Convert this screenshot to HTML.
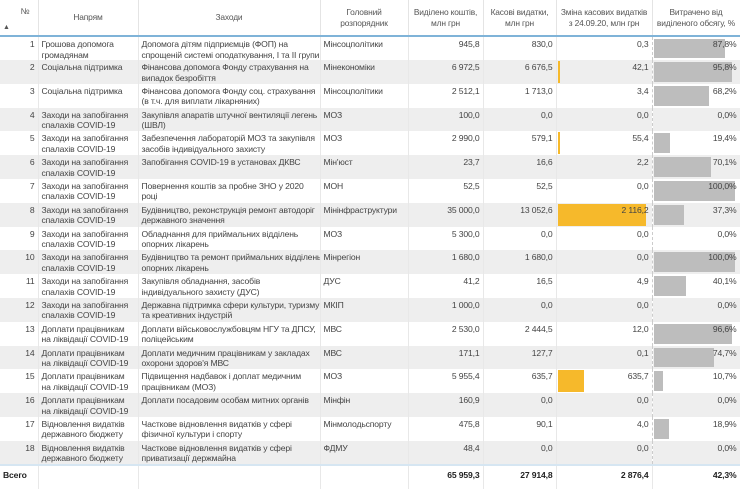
<!DOCTYPE html>
<html><head><meta charset="utf-8">
<style>
body{margin:0;width:740px;height:497px;background:#fff;font-family:"Liberation Sans","DejaVu Sans",sans-serif;font-size:8.6px;letter-spacing:-0.15px;color:#444;overflow:hidden;position:relative}
table{border-collapse:collapse;table-layout:fixed;position:absolute;left:0;top:0;width:740px}
td,th{padding:0 3px;vertical-align:top;line-height:10.5px;overflow:hidden;white-space:nowrap}
th{font-weight:normal;color:#555;font-size:8.4px;text-align:center;height:35px;vertical-align:middle;border-right:1px solid #e4e4e4;border-bottom:2px solid #7fb3d8;white-space:normal}
tbody tr{height:23.8px}
tbody td{padding-top:2px;border-right:1px solid #e8e8e8}
tbody tr:nth-child(even){background:#eeeeee}
.n{text-align:right}
.c{position:relative}
.y{position:absolute;left:1px;top:1px;bottom:1px;background:#f6b92b}
.g{position:absolute;left:1px;top:2px;bottom:2px;background:#bdbdbd}
.c span{position:relative}
td.c4{border-right:1px dashed #ccc}
tr.tot td{font-weight:bold;color:#222;height:14px;padding-top:4px;border-top:2px solid #d6e6f2;border-right:1px solid #e8e8e8;background:#fff}
</style></head><body>
<table>
<colgroup><col style="width:38px"><col style="width:100px"><col style="width:182px"><col style="width:88px"><col style="width:75px"><col style="width:73px"><col style="width:96px"><col style="width:88px"></colgroup>
<thead><tr><th style="position:relative"><span style="position:absolute;top:6px;right:8px">№</span><span style="position:absolute;left:3px;bottom:2px;font-size:7px">▲</span></th><th>Напрям</th><th>Заходи</th><th>Головний<br>розпорядник</th><th>Виділено коштів,<br>млн грн</th><th>Касові видатки,<br>млн грн</th><th>Зміна касових видатків<br>з 24.09.20, млн грн</th><th>Витрачено від<br>виділеного обсягу, %</th></tr></thead>
<tbody>
<tr><td class="n">1</td><td>Грошова допомога<br>громадянам</td><td>Допомога дітям підприємців (ФОП) на<br>спрощеній системі оподаткування, I та II групи</td><td>Мінсоцполітики</td><td class="n">945,8</td><td class="n">830,0</td><td class="n c c4"><span>0,3</span></td><td class="n c"><div class="g" style="width:71px"></div><span>87,8%</span></td></tr>
<tr><td class="n">2</td><td>Соціальна підтримка</td><td>Фінансова допомога Фонду страхування на<br>випадок безробіття</td><td>Мінекономіки</td><td class="n">6 972,5</td><td class="n">6 676,5</td><td class="n c c4"><div class="y" style="width:2px"></div><span>42,1</span></td><td class="n c"><div class="g" style="width:78px"></div><span>95,8%</span></td></tr>
<tr><td class="n">3</td><td>Соціальна підтримка</td><td>Фінансова допомога Фонду соц. страхування<br>(в т.ч. для виплати лікарняних)</td><td>Мінсоцполітики</td><td class="n">2 512,1</td><td class="n">1 713,0</td><td class="n c c4"><span>3,4</span></td><td class="n c"><div class="g" style="width:55px"></div><span>68,2%</span></td></tr>
<tr><td class="n">4</td><td>Заходи на запобігання<br>спалахів COVID-19</td><td>Закупівля апаратів штучної вентиляції легень<br>(ШВЛ)</td><td>МОЗ</td><td class="n">100,0</td><td class="n">0,0</td><td class="n c c4"><span>0,0</span></td><td class="n c"><span>0,0%</span></td></tr>
<tr><td class="n">5</td><td>Заходи на запобігання<br>спалахів COVID-19</td><td>Забезпечення лабораторій МОЗ та закупівля<br>засобів індивідуального захисту</td><td>МОЗ</td><td class="n">2 990,0</td><td class="n">579,1</td><td class="n c c4"><div class="y" style="width:2px"></div><span>55,4</span></td><td class="n c"><div class="g" style="width:16px"></div><span>19,4%</span></td></tr>
<tr><td class="n">6</td><td>Заходи на запобігання<br>спалахів COVID-19</td><td>Запобігання COVID-19 в установах ДКВС</td><td>Мін'юст</td><td class="n">23,7</td><td class="n">16,6</td><td class="n c c4"><span>2,2</span></td><td class="n c"><div class="g" style="width:57px"></div><span>70,1%</span></td></tr>
<tr><td class="n">7</td><td>Заходи на запобігання<br>спалахів COVID-19</td><td>Повернення коштів за пробне ЗНО у 2020<br>році</td><td>МОН</td><td class="n">52,5</td><td class="n">52,5</td><td class="n c c4"><span>0,0</span></td><td class="n c"><div class="g" style="width:81px"></div><span>100,0%</span></td></tr>
<tr><td class="n">8</td><td>Заходи на запобігання<br>спалахів COVID-19</td><td>Будівництво, реконструкція ремонт автодоріг<br>державного значення</td><td>Мінінфраструктури</td><td class="n">35 000,0</td><td class="n">13 052,6</td><td class="n c c4"><div class="y" style="width:88px"></div><span>2 116,2</span></td><td class="n c"><div class="g" style="width:30px"></div><span>37,3%</span></td></tr>
<tr><td class="n">9</td><td>Заходи на запобігання<br>спалахів COVID-19</td><td>Обладнання для приймальних відділень<br>опорних лікарень</td><td>МОЗ</td><td class="n">5 300,0</td><td class="n">0,0</td><td class="n c c4"><span>0,0</span></td><td class="n c"><span>0,0%</span></td></tr>
<tr><td class="n">10</td><td>Заходи на запобігання<br>спалахів COVID-19</td><td>Будівництво та ремонт приймальних відділень<br>опорних лікарень</td><td>Мінрегіон</td><td class="n">1 680,0</td><td class="n">1 680,0</td><td class="n c c4"><span>0,0</span></td><td class="n c"><div class="g" style="width:81px"></div><span>100,0%</span></td></tr>
<tr><td class="n">11</td><td>Заходи на запобігання<br>спалахів COVID-19</td><td>Закупівля обладнання, засобів<br>індивідуального захисту (ДУС)</td><td>ДУС</td><td class="n">41,2</td><td class="n">16,5</td><td class="n c c4"><span>4,9</span></td><td class="n c"><div class="g" style="width:32px"></div><span>40,1%</span></td></tr>
<tr><td class="n">12</td><td>Заходи на запобігання<br>спалахів COVID-19</td><td>Державна підтримка сфери культури, туризму<br>та креативних індустрій</td><td>МКІП</td><td class="n">1 000,0</td><td class="n">0,0</td><td class="n c c4"><span>0,0</span></td><td class="n c"><span>0,0%</span></td></tr>
<tr><td class="n">13</td><td>Доплати працівникам<br>на ліквідації COVID-19</td><td>Доплати військовослужбовцям НГУ та ДПСУ,<br>поліцейським</td><td>МВС</td><td class="n">2 530,0</td><td class="n">2 444,5</td><td class="n c c4"><span>12,0</span></td><td class="n c"><div class="g" style="width:78px"></div><span>96,6%</span></td></tr>
<tr><td class="n">14</td><td>Доплати працівникам<br>на ліквідації COVID-19</td><td>Доплати медичним працівникам у закладах<br>охорони здоров'я МВС</td><td>МВС</td><td class="n">171,1</td><td class="n">127,7</td><td class="n c c4"><span>0,1</span></td><td class="n c"><div class="g" style="width:60px"></div><span>74,7%</span></td></tr>
<tr><td class="n">15</td><td>Доплати працівникам<br>на ліквідації COVID-19</td><td>Підвищення надбавок і доплат медичним<br>працівникам (МОЗ)</td><td>МОЗ</td><td class="n">5 955,4</td><td class="n">635,7</td><td class="n c c4"><div class="y" style="width:26px"></div><span>635,7</span></td><td class="n c"><div class="g" style="width:9px"></div><span>10,7%</span></td></tr>
<tr><td class="n">16</td><td>Доплати працівникам<br>на ліквідації COVID-19</td><td>Доплати посадовим особам митних органів</td><td>Мінфін</td><td class="n">160,9</td><td class="n">0,0</td><td class="n c c4"><span>0,0</span></td><td class="n c"><span>0,0%</span></td></tr>
<tr><td class="n">17</td><td>Відновлення видатків<br>державного бюджету</td><td>Часткове відновлення видатків у сфері<br>фізичної культури і спорту</td><td>Мінмолодьспорту</td><td class="n">475,8</td><td class="n">90,1</td><td class="n c c4"><span>4,0</span></td><td class="n c"><div class="g" style="width:15px"></div><span>18,9%</span></td></tr>
<tr><td class="n">18</td><td>Відновлення видатків<br>державного бюджету</td><td>Часткове відновлення видатків у сфері<br>приватизації держмайна</td><td>ФДМУ</td><td class="n">48,4</td><td class="n">0,0</td><td class="n c c4"><span>0,0</span></td><td class="n c"><span>0,0%</span></td></tr>
<tr class="tot"><td style="text-align:left">Всего</td><td></td><td></td><td></td><td class="n">65 959,3</td><td class="n">27 914,8</td><td class="n">2 876,4</td><td class="n">42,3%</td></tr>
</tbody></table>
</body></html>
